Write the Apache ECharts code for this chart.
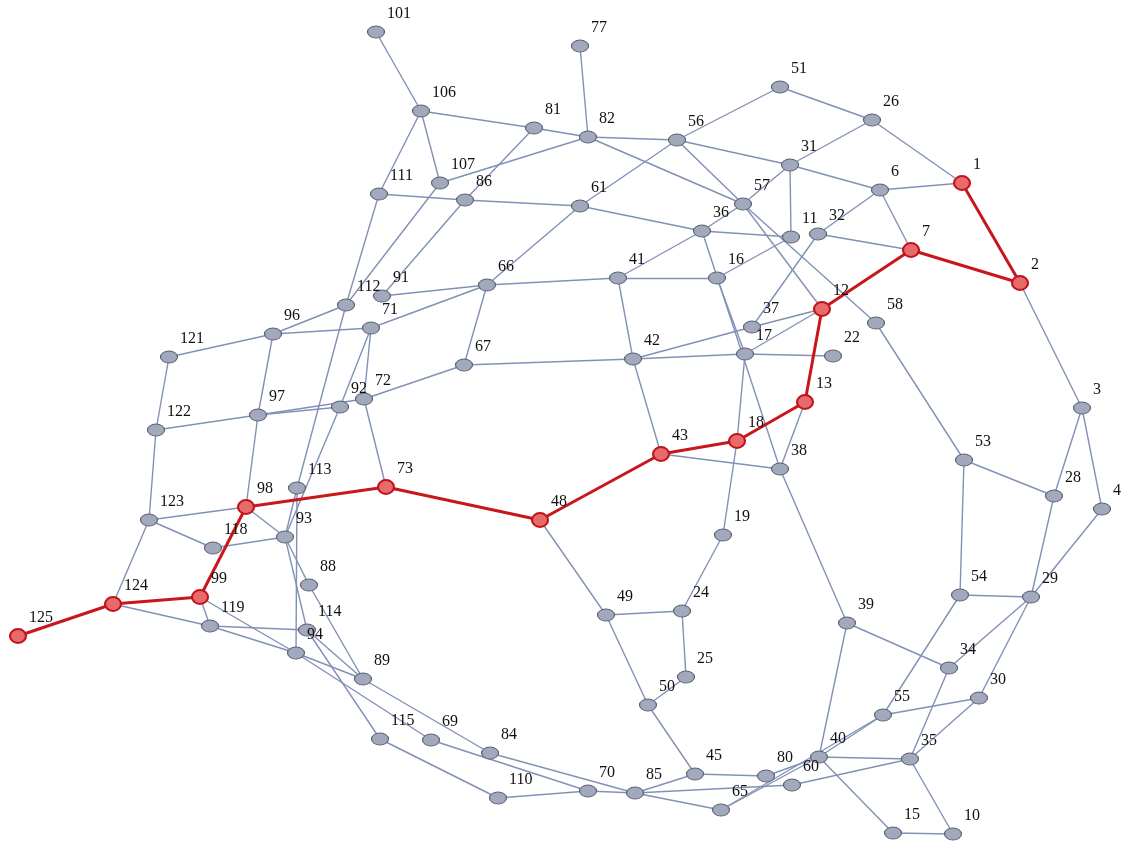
<!DOCTYPE html>
<html>
<head>
<meta charset="utf-8">
<script src="https://cdn.jsdelivr.net/npm/echarts@6/dist/echarts.min.js"></script>
<style>
  html, body { margin: 0; padding: 0; background: #ffffff; }
  #chart { width: 1124px; height: 846px; }
</style>
</head>
<body>
<div id="chart"></div>
<script>
// Node ids and their layout positions
const nodeIds = ['1','2','3','4','6','7','10','11','12','13','15','16','17','18','19','22','24','25','26','28',
  '29','30','31','32','34','35','36','37','38','39','40','41','42','43','45','48','49','50','51','53',
  '54','55','56','57','58','60','61','65','66','67','69','70','71','72','73','77','80','81','82','84',
  '85','86','88','89','91','92','93','94','96','97','98','99','101','106','107','110','111','112','113','114',
  '115','118','119','121','122','123','124','125'];
const nodeX = [962,1020,1082,1102,880,911,953,791,822,805,893,717,745,737,723,833,682,686,872,1054,
  1031,979,790,818,949,910,702,752,780,847,819,618,633,661,695,540,606,648,780,964,
  960,883,677,743,876,792,580,721,487,464,431,588,371,364,386,580,766,534,588,490,
  635,465,309,363,382,340,285,296,273,258,246,200,376,421,440,498,379,346,297,307,
  380,213,210,169,156,149,113,18];
const nodeY = [183,283,408,509,190,250,834,237,309,402,833,278,354,441,535,356,611,677,120,496,
  597,698,165,234,668,759,231,327,469,623,757,278,359,454,774,520,615,705,87,460,
  595,715,140,204,323,785,206,810,285,365,740,791,328,399,487,46,776,128,137,753,
  793,200,585,679,296,407,537,653,334,415,507,597,32,111,183,798,194,305,488,630,
  739,548,626,357,430,520,604,636];

// Highlighted route through the network
const routeNodes = ['125','124','99','98','73','48','43','18','13','12','7','2','1'];

// Remaining links
const linkSource = ['101','106','106','106','81','81','107','107','77','82','82','56','56','56','56','51','26','26','31','31',
  '6','6','6','57','57','32','32','36','36','36','36','16','16','16','61','86','86','66','66','66',
  '66','66','112','112','111','71','71','71','92','97','97','97','97','97','121','121','122','72','72','67',
  '41','42','42','42','17','17','37','17','18','43','38','38','19','24','24','25','49','48','50','45',
  '45','39','39','40','40','40','35','35','35','35','15','55','55','54','54','53','53','3','3','3',
  '29','29','29','29','98','98','118','118','123','124','99','99','119','119','113','113','93','88','114','94',
  '114','115','94','69','89','84','110','70','85','65','60','93','65','80','57','31'];
const linkTarget = ['106','81','111','107','82','86','82','112','82','56','57','51','61','31','57','26','31','1','6','11',
  '1','32','7','36','58','7','37','61','11','41','38','11','41','17','86','111','91','61','91','41',
  '67','71','96','113','112','96','72','92','93','92','72','96','122','98','96','122','123','67','73','42',
  '42','43','17','37','22','12','12','18','19','38','13','39','24','49','25','50','50','49','45','85',
  '80','40','34','15','35','55','34','10','30','60','10','54','30','29','53','28','58','28','4','2',
  '28','4','34','30','123','93','93','123','124','119','119','94','114','94','93','94','114','89','89','89',
  '115','110','69','70','84','85','70','85','65','40','85','88','55','40','12','57'];

const grayNode = { color: '#a2a9bc', borderColor: '#5c6375', borderWidth: 1 };
const redNode = { color: '#e86a6a', borderColor: '#c0141c', borderWidth: 2 };
const ellipse = 'path://M0,1a1,1 0 1,0 2,0a1,1 0 1,0 -2,0z';

const routeSet = new Set(routeNodes);
const nodes = nodeIds.map((id, i) => ({
  name: id,
  x: nodeX[i],
  y: nodeY[i],
  symbolSize: routeSet.has(id) ? [16, 14] : [17, 12],
  itemStyle: routeSet.has(id) ? redNode : grayNode
}));

const links = linkSource.map((s, i) => ({
  source: s, target: linkTarget[i],
  lineStyle: { color: '#8191b6', width: 1.4, opacity: 1 }
}));
for (let i = 0; i + 1 < routeNodes.length; i++) {
  links.push({
    source: routeNodes[i], target: routeNodes[i + 1],
    lineStyle: { color: '#c8161d', width: 3, opacity: 1 }
  });
}

const xmin = Math.min(...nodeX), xmax = Math.max(...nodeX);
const ymin = Math.min(...nodeY), ymax = Math.max(...nodeY);

const chart = echarts.init(document.getElementById('chart'));
chart.setOption({
  backgroundColor: '#ffffff',
  animation: false,
  series: [{
    type: 'graph',
    layout: 'none',
    left: xmin, top: ymin,
    width: xmax - xmin, height: ymax - ymin,
    symbol: ellipse,
    data: nodes,
    links: links,
    label: {
      show: true,
      position: 'right',
      distance: 2,
      offset: [0, -18],
      fontFamily: 'Liberation Serif',
      fontSize: 16,
      color: '#111111'
    },
    emphasis: { disabled: true },
    lineStyle: { curveness: 0 }
  }]
});
</script>
</body>
</html>
